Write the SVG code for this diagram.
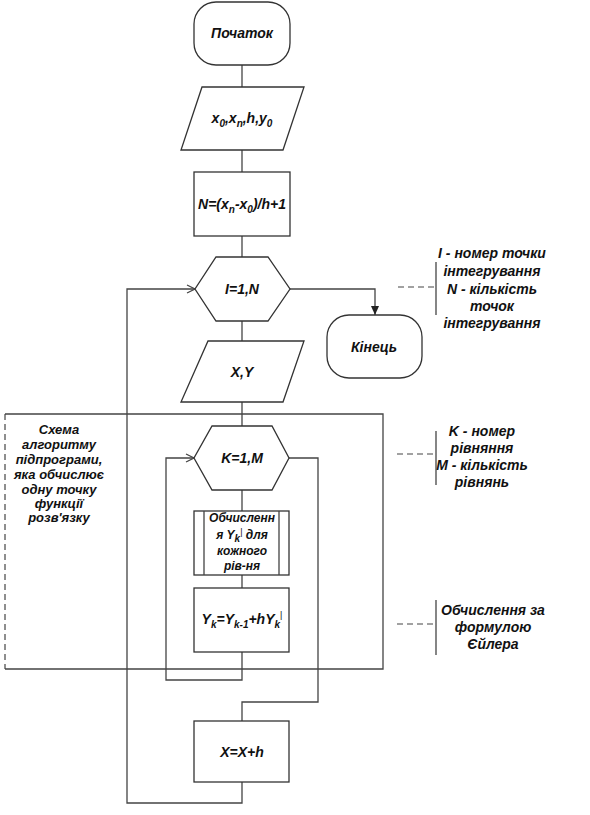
<svg xmlns="http://www.w3.org/2000/svg" width="590" height="815" viewBox="0 0 590 815">
<defs>
<style>
.s{fill:#fff;stroke:#333;stroke-width:1.3}
.c{fill:none;stroke:#444;stroke-width:1.3}
.d{fill:none;stroke:#444;stroke-width:1.2;stroke-dasharray:6,4}
.t{font-family:"Liberation Sans",Arial,sans-serif;font-weight:bold;font-style:italic;font-size:14px;fill:#111;text-anchor:middle}
.m{font-size:13px}
.sm{font-size:12px}
.sub{font-size:10px}
.pr{font-size:9px;font-style:normal;font-weight:normal}
</style>
<marker id="open" markerWidth="10" markerHeight="10" refX="9" refY="5" orient="auto" markerUnits="userSpaceOnUse">
<path d="M1,1 L9,5 L1,9" fill="none" stroke="#444" stroke-width="1.2"/>
</marker>
<marker id="fill" markerWidth="10" markerHeight="10" refX="9" refY="5" orient="auto" markerUnits="userSpaceOnUse">
<path d="M0,1 L9,5 L0,9 Z" fill="#222"/>
</marker>
</defs>
<rect width="590" height="815" fill="#fff"/>

<g id="connectors">
<path class="c" d="M242,65 V87"/>
<path class="c" d="M242,150 V172"/>
<path class="c" d="M242,236 V257"/>
<path class="c" d="M242,321 V341"/>
<path class="c" d="M242,402 V426"/>
<path class="c" d="M290,289 H375 V315" marker-end="url(#fill)"/>
<path class="c" d="M242,782 V803 H127 V289 H195" marker-end="url(#open)"/>
<path class="c" d="M242,490 V511"/>
<path class="c" d="M242,575 V588"/>
<path class="c" d="M242,652 V680 H166 V458 H194" marker-end="url(#open)"/>
<path class="c" d="M289,458 H318 V702 H242 V721"/>
</g>

<g id="subprogram-frame">
<path class="c" d="M5,414 H383 V669 H5"/>
<path class="d" d="M5,414 V669"/>
<text class="t m" x="59" y="434">Схема</text>
<text class="t m" x="59" y="449">алгоритму</text>
<text class="t m" x="59" y="464">підпрограми,</text>
<text class="t m" x="59" y="479">яка обчислює</text>
<text class="t m" x="59" y="494">одну точку</text>
<text class="t m" x="59" y="508">функції</text>
<text class="t m" x="59" y="522">розв'язку</text>
</g>

<g id="start">
<rect class="s" x="194" y="2" width="96" height="63" rx="22"/>
<text class="t" x="242" y="38">Початок</text>
</g>

<g id="input1">
<polygon class="s" points="202,87 304,87 283,150 181,150"/>
<text class="t" x="242" y="123">x<tspan class="sub" dy="4">0</tspan><tspan dy="-4">,x</tspan><tspan class="sub" dy="4">n</tspan><tspan dy="-4">,h,y</tspan><tspan class="sub" dy="4">0</tspan></text>
</g>

<g id="calcN">
<rect class="s" x="194" y="172" width="96" height="64"/>
<text class="t" x="242" y="209">N=(x<tspan class="sub" dy="4">n</tspan><tspan dy="-4">-x</tspan><tspan class="sub" dy="4">0</tspan><tspan dy="-4">)/h+1</tspan></text>
</g>

<g id="loopI">
<polygon class="s" points="216,257 268,257 290,289 268,321 216,321 195,289"/>
<text class="t" x="242" y="294">I=1,N</text>
</g>

<g id="end">
<rect class="s" x="327" y="315" width="95" height="63" rx="22"/>
<text class="t" x="374" y="352">Кінець</text>
</g>

<g id="note1">
<path class="d" d="M398,287 H436"/>
<path class="c" d="M436,262 V315"/>
<text class="t" x="492" y="258">I - номер точки</text>
<text class="t" x="492" y="276">інтегрування</text>
<text class="t" x="492" y="294">N - кількість</text>
<text class="t" x="492" y="311">точок</text>
<text class="t" x="492" y="328">інтегрування</text>
</g>

<g id="inputXY">
<polygon class="s" points="208,341 304,341 283,402 181,402"/>
<text class="t" x="242" y="377">X,Y</text>
</g>

<g id="loopK">
<polygon class="s" points="212,426 272,426 289,458 272,490 212,490 194,458"/>
<text class="t" x="242" y="463">K=1,M</text>
</g>

<g id="note2">
<path class="d" d="M397,454 H436"/>
<path class="c" d="M436,431 V485"/>
<text class="t" x="482" y="436">K - номер</text>
<text class="t" x="482" y="453">рівняння</text>
<text class="t" x="482" y="470">M - кількість</text>
<text class="t" x="482" y="487">рівнянь</text>
</g>

<g id="subroutine">
<rect class="s" x="194" y="511" width="95" height="64"/>
<path class="c" d="M204,511 V575 M279,511 V575"/>
<text class="t sm" x="242" y="522">Обчисленн</text>
<text class="t sm" x="242" y="539">я Y<tspan class="sub" dy="3">k</tspan><tspan class="pr" dy="-7">|</tspan><tspan dy="4"> для</tspan></text>
<text class="t sm" x="242" y="555">кожного</text>
<text class="t sm" x="242" y="570">рів-ня</text>
</g>

<g id="euler">
<rect class="s" x="194" y="588" width="95" height="64"/>
<text class="t" x="242" y="624">Y<tspan class="sub" dy="4">k</tspan><tspan dy="-4">=Y</tspan><tspan class="sub" dy="4">k-1</tspan><tspan dy="-4">+hY</tspan><tspan class="sub" dy="4">k</tspan><tspan class="pr" dy="-10">|</tspan></text>
</g>

<g id="note3">
<path class="d" d="M397,624 H436"/>
<path class="c" d="M436,600 V655"/>
<text class="t" x="493" y="615">Обчислення за</text>
<text class="t" x="493" y="632">формулою</text>
<text class="t" x="493" y="649">Єйлера</text>
</g>

<g id="incX">
<rect class="s" x="194" y="721" width="95" height="61"/>
<text class="t" x="242" y="757">X=X+h</text>
</g>
</svg>
